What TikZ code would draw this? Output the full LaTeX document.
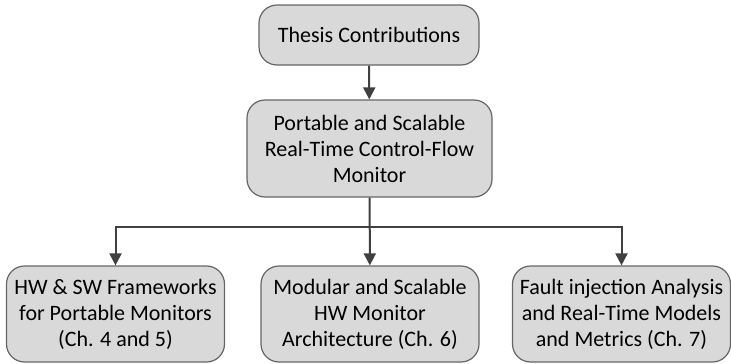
\documentclass[tikz,border=0pt]{standalone}
\usepackage{fontspec}
\setmainfont{Carlito}
\usetikzlibrary{arrows.meta}

\definecolor{boxfill}{HTML}{D9D9D9}
\definecolor{boxline}{HTML}{656565}
\definecolor{linkgray}{HTML}{404040}

\begin{document}
\begin{tikzpicture}[x=1pt, y=-1pt,
  contrib/.style={draw=boxline, fill=boxfill, line width=1.2pt,
    rounded corners=18pt, align=center, inner sep=0pt,
    font=\fontsize{22}{26}\selectfont, minimum height=96pt, minimum width=218pt},
  link/.style={draw=linkgray, line width=2pt,
    -{Triangle[length=12pt, width=12pt]}}]
% Fix the page to the reference size
\useasboundingbox (0, 0) rectangle (731, 364);

% Top of the tree
\node[contrib, minimum height=60pt, minimum width=220pt] (thesis) at (369, 35) {Thesis Contributions};
\node[contrib, minimum height=97pt, minimum width=245pt] (monitor) at (369.5, 148.5)
  {Portable and Scalable\\Real-Time Control-Flow\\Monitor};

% The three contributions
\node[contrib] (frameworks) at (115.5, 314) {HW \& SW Frameworks\\for Portable Monitors\\(Ch. 4 and 5)};
\node[contrib] (architecture) at (370, 314) {Modular and Scalable\\HW Monitor\\Architecture (Ch. 6)};
\node[contrib] (faultinj) at (621.5, 314) {Fault injection Analysis\\and Real-Time Models\\and Metrics (Ch. 7)};

% Connectors
\coordinate (split) at (369, 227);
\draw[link] (thesis) -- (monitor);
\draw[link] (monitor) -- (architecture);
\draw[link] (split) -| (frameworks);
\draw[link] (split) -| (faultinj);
\end{tikzpicture}
\end{document}
